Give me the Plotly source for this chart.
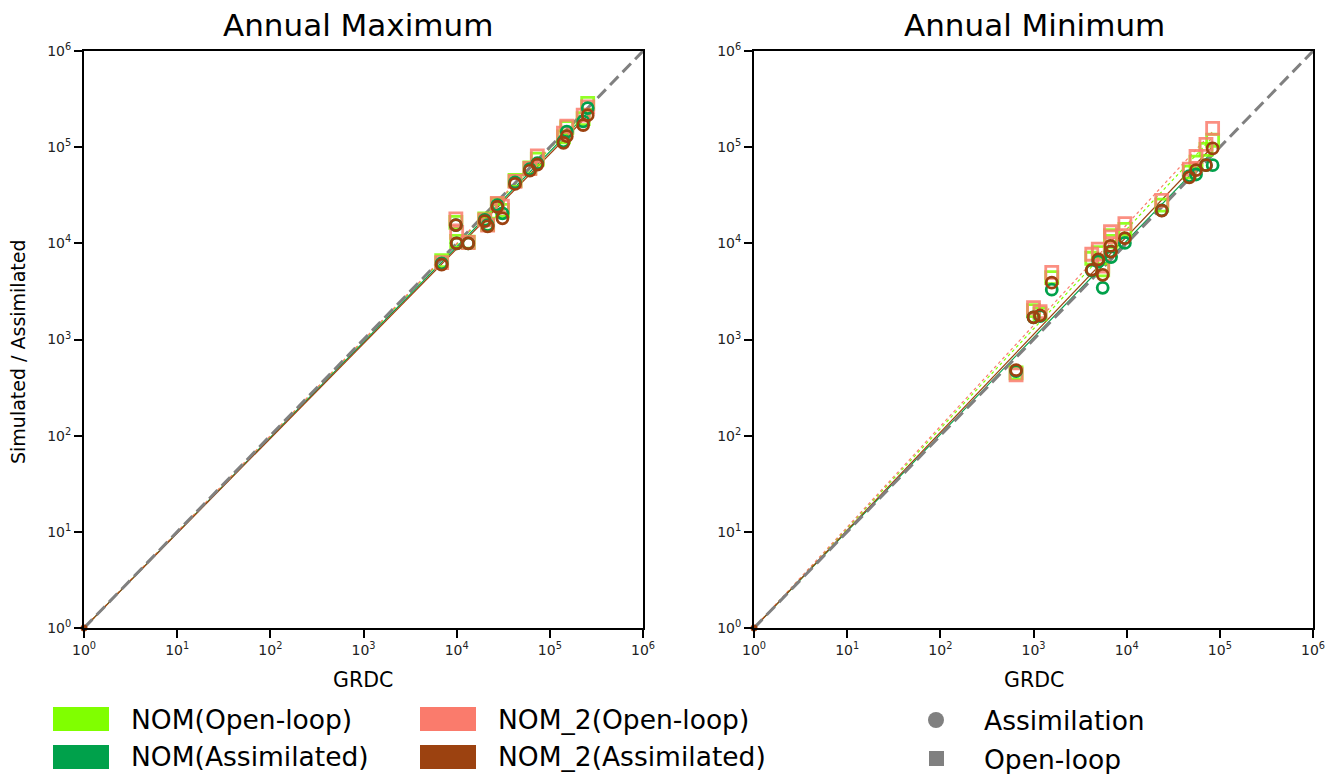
import numpy as np
import plotly.graph_objects as go

# ---------------- data ----------------
# Annual Maximum panel
max_grdc    = [6900, 9800, 10000, 13300, 20000, 21500, 27300, 31000, 42300, 61000, 73400, 140000, 152000, 228000, 255000]
max_nom_ol  = [6600, 16500, 10500, 10300, 18000, 15800, 25500, 22000, 45000, 61000, 75000, 128000, 160000, 198000, 285000]
max_nom_as  = [6200, 15500, 10000, 10000, 17500, 15500, 25000, 20500, 43000, 59000, 68000, 115000, 145000, 185000, 255000]
max_nom2_ol = [6300, 18000, 13000, 10200, 17500, 15500, 26000, 24400, 44000, 60000, 81000, 140000, 165000, 215000, 262000]
max_nom2_as = [6000, 15500, 10000, 10000, 17000, 15000, 24000, 18200, 41500, 57000, 66000, 111000, 130000, 170000, 215000]

# Annual Minimum panel
min_grdc    = [650, 1000, 1175, 1570, 4220, 4960, 5530, 6700, 6800, 9570, 23800, 47000, 55500, 71000, 83700]
min_nom_ol  = [450, 2000, 1850, 4400, 7000, 8000, 5300, 12000, 10500, 14000, 25000, 55000, 70000, 95000, 118000]
min_nom_as  = [470, 1700, 1750, 3300, 5200, 6500, 3450, 8200, 7200, 10100, 22000, 50000, 52000, 65000, 65000]
min_nom2_ol = [430, 2150, 1950, 5000, 7700, 8700, 5800, 13200, 11700, 16000, 28000, 59000, 80000, 107000, 157000]
min_nom2_as = [480, 1700, 1780, 3900, 5300, 6800, 4700, 9400, 8200, 11300, 21900, 48500, 57700, 65000, 97000]

one_to_one = [1, 1e6]
tick_vals = [1, 10, 100, 1000, 1e4, 1e5, 1e6]
tick_text = ["10<sup>%d</sup>" % i for i in range(7)]

series_names = ["NOM(Open-loop)", "NOM(Assimilated)", "NOM_2(Open-loop)", "NOM_2(Assimilated)"]
colors = {"NOM(Open-loop)": "#80ff00", "NOM(Assimilated)": "#00a14b",
          "NOM_2(Open-loop)": "#fa7b6c", "NOM_2(Assimilated)": "#9c4210"}

# ---------------- layout helpers ----------------
W, H = 1340, 774
L, R, T, B = 84, 27, 51, 146
PW, PH = W - L - R, H - T - B


def px(x):
    return (x - L) / PW


def py(y):
    return (H - B - y) / PH


FONT = "DejaVu Sans"
fig = go.Figure()

panels = [
    ("x", "y", max_grdc, [max_nom_ol, max_nom_as, max_nom2_ol, max_nom2_as]),
    ("x2", "y2", min_grdc, [min_nom_ol, min_nom_as, min_nom2_ol, min_nom2_as]),
]

for xa, ya, gx, sims in panels:
    lx = np.log10(np.array(gx, dtype=float))
    # fit lines (power law through (1,1) in log space)
    for name, sim in zip(series_names, sims):
        ly = np.log10(np.array(sim, dtype=float))
        b = float(np.sum(lx * ly) / np.sum(lx * lx))
        xs = np.array([1.0, max(gx)])
        ys = xs ** b
        dash = "dot" if "Open" in name else "solid"
        fig.add_trace(go.Scatter(x=xs, y=ys, mode="lines", xaxis=xa, yaxis=ya,
                                 line=dict(color=colors[name], width=1.2, dash=dash),
                                 showlegend=False, hoverinfo="skip"))
    # 1:1 line
    fig.add_trace(go.Scatter(x=one_to_one, y=one_to_one, mode="lines", xaxis=xa, yaxis=ya,
                             line=dict(color="#808080", width=3, dash="12px,6px"),
                             showlegend=False, hoverinfo="skip"))
    # origin dot
    fig.add_trace(go.Scatter(x=[one_to_one[0]], y=[one_to_one[0]], mode="markers", xaxis=xa, yaxis=ya,
                             marker=dict(color=colors["NOM_2(Assimilated)"], size=7),
                             showlegend=False, hoverinfo="skip", cliponaxis=False))
    # markers: squares for open-loop, circles for assimilated
    order = [0, 2, 1, 3]
    for i in order:
        name = series_names[i]
        is_ol = "Open" in name
        fig.add_trace(go.Scatter(
            x=gx, y=sims[i], mode="markers", xaxis=xa, yaxis=ya, name=name,
            marker=dict(symbol="square-open" if is_ol else "circle-open",
                        size=12 if is_ol else 11,
                        color=colors[name], opacity=0.85 if is_ol else 1.0,
                        line=dict(width=2.8, color=colors[name])),
            showlegend=False))

axis_common = dict(type="log", range=[0, 6], tickmode="array", tickvals=tick_vals, ticktext=tick_text,
                   ticks="outside", ticklen=8, tickwidth=2, tickcolor="black",
                   showline=True, linecolor="black", linewidth=2, mirror=True,
                   showgrid=False, zeroline=False,
                   tickfont=dict(family=FONT, size=14, color="#222"))

fig.update_layout(
    width=W, height=H,
    margin=dict(l=L, r=R, t=T, b=B),
    paper_bgcolor="white", plot_bgcolor="white",
    showlegend=False,
    xaxis=dict(domain=[0, px(643)], anchor="y", **axis_common),
    yaxis=dict(domain=[0, 1], anchor="x", **axis_common),
    xaxis2=dict(domain=[px(754), 1], anchor="y2", **axis_common),
    yaxis2=dict(domain=[0, 1], anchor="x2", **axis_common),
)

annotations = []
# titles
for txt, cx in [("Annual Maximum", 358), ("Annual Minimum", 1034)]:
    annotations.append(dict(text=txt, x=px(cx), y=py(25), xref="paper", yref="paper",
                            showarrow=False, xanchor="center", yanchor="middle",
                            font=dict(family=FONT, size=31, color="black")))
# axis titles
for cx in [363, 1034]:
    annotations.append(dict(text="GRDC", x=px(cx), y=py(680), xref="paper", yref="paper",
                            showarrow=False, xanchor="center", yanchor="middle",
                            font=dict(family=FONT, size=20.5, color="black")))
annotations.append(dict(text="Simulated / Assimilated", x=px(18), y=py(352), xref="paper", yref="paper",
                        showarrow=False, xanchor="center", yanchor="middle", textangle=-90,
                        font=dict(family=FONT, size=19, color="black")))

shapes = []
# colour legend
legend_items = [
    ("NOM(Open-loop)", 53, 707),
    ("NOM(Assimilated)", 53, 745),
    ("NOM_2(Open-loop)", 420, 707),
    ("NOM_2(Assimilated)", 420, 745),
]
for name, x0, y0 in legend_items:
    shapes.append(dict(type="rect", xref="paper", yref="paper",
                       x0=px(x0), x1=px(x0 + 56), y0=py(y0), y1=py(y0 + 24),
                       fillcolor=colors[name], line=dict(width=0)))
    annotations.append(dict(text=name, x=px(x0 + 76), y=py(y0 + 12), xref="paper", yref="paper",
                            showarrow=False, xanchor="left", yanchor="middle",
                            font=dict(family=FONT, size=26.5, color="black")))
# marker legend
shapes.append(dict(type="circle", xref="paper", yref="paper",
                   x0=px(928), x1=px(944), y0=py(712), y1=py(728),
                   fillcolor="#808080", line=dict(width=0)))
shapes.append(dict(type="rect", xref="paper", yref="paper",
                   x0=px(929), x1=px(944), y0=py(751), y1=py(766),
                   fillcolor="#808080", line=dict(width=0)))
for txt, cy in [("Assimilation", 720), ("Open-loop", 759)]:
    annotations.append(dict(text=txt, x=px(982), y=py(cy), xref="paper", yref="paper",
                            showarrow=False, xanchor="left", yanchor="middle",
                            font=dict(family=FONT, size=26.5, color="black")))

fig.update_layout(annotations=annotations, shapes=shapes)
fig.write_html("out.html", config={"displayModeBar": False},
               post_script="document.body.style.margin='0px';document.body.style.overflow='hidden';")
